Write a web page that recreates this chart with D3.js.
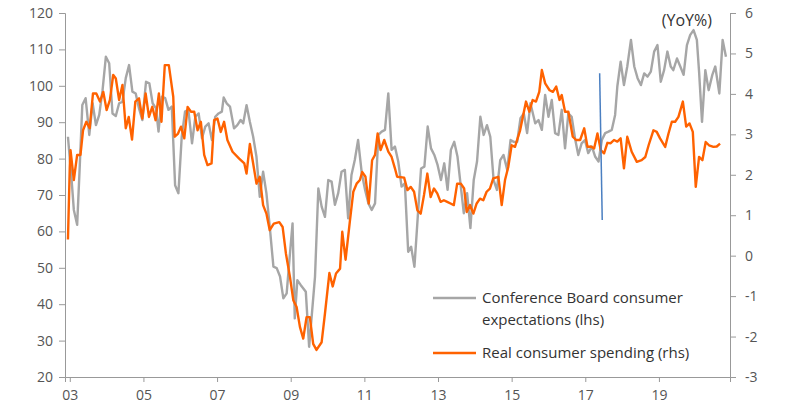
<!DOCTYPE html>
<html><head><meta charset="utf-8">
<script src="https://cdn.jsdelivr.net/npm/d3@7"></script>
<style>body{margin:0;background:#fff;font-family:"Open Sans",Arial,sans-serif}</style>
</head><body><svg id="c" width="800" height="412"></svg>
<script>
const leftTicks=[20,30,40,50,60,70,80,90,100,110,120];
const rightTicks=[-3,-2,-1,0,1,2,3,4,5,6];
const yearTicks=[2003,2005,2007,2009,2011,2013,2015,2017,2019];
const yearLabels=["03","05","07","09","11","13","15","17","19"];
const grayYears=[2002.95,2003.05,2003.11,2003.2,2003.27,2003.34,2003.43,2003.53,2003.62,2003.71,2003.8,2003.89,2003.98,2004.07,2004.16,2004.25,2004.34,2004.43,2004.52,2004.61,2004.7,2004.79,2004.88,2004.97,2005.07,2005.16,2005.25,2005.34,2005.41,2005.5,2005.59,2005.68,2005.77,2005.86,2005.95,2006.04,2006.13,2006.22,2006.32,2006.41,2006.5,2006.59,2006.68,2006.77,2006.86,2006.95,2007.04,2007.13,2007.18,2007.26,2007.35,2007.46,2007.55,2007.64,2007.71,2007.8,2007.89,2007.98,2008.07,2008.16,2008.25,2008.34,2008.43,2008.53,2008.62,2008.71,2008.8,2008.89,2008.98,2009.05,2009.11,2009.18,2009.27,2009.41,2009.5,
2009.66,2009.75,2009.84,2009.93,2010.02,2010.11,2010.2,2010.29,2010.38,2010.47,2010.56,2010.65,2010.74,2010.83,2010.93,2011.02,2011.11,2011.2,2011.29,2011.38,2011.47,2011.56,2011.65,2011.74,2011.83,2011.92,2012.01,2012.1,2012.19,2012.27,2012.36,2012.45,2012.54,2012.63,2012.72,2012.81,2012.9,2012.99,2013.08,2013.17,2013.26,2013.35,2013.44,2013.53,2013.63,2013.7,2013.79,2013.88,2013.97,2014.06,2014.15,2014.24,2014.33,2014.42,2014.51,2014.6,2014.69,2014.78,2014.88,2014.97,2015.06,2015.15,2015.24,2015.33,2015.42,2015.51,
2015.64,2015.73,2015.82,2015.91,2016.0,2016.09,2016.18,2016.27,2016.36,2016.45,2016.54,2016.63,2016.72,2016.81,2016.9,2016.99,2017.08,2017.18,2017.27,2017.36,2017.45,2017.54,2017.63,2017.72,2017.81,2017.87,2017.96,2018.05,2018.14,2018.24,2018.33,2018.42,2018.51,2018.6,2018.69,2018.78,2018.87,2018.96,2019.05,2019.14,2019.23,2019.32,2019.39,2019.49,2019.58,2019.67,2019.76,2019.85,2019.94,2020.03,2020.09,2020.17,2020.26,2020.35,2020.45,2020.53,2020.64,2020.73,2020.82];
const grayValues=[86,74.1,65.9,61.8,77.8,94.7,96.6,86.5,95.2,89.2,92,98.8,108,106.2,92.4,91.7,95.2,95.6,102.1,105.7,98.4,97.9,93.8,90.6,101.1,100.7,95.2,93.8,87.4,97,96.6,93.4,94.3,72.7,70.5,86,92.9,93.4,84.2,91.5,92.4,85.6,88.8,89.7,85.1,91.5,92.4,92.9,96.8,95.2,94.3,88.3,89.2,90.6,89.7,94.7,90.1,86,80.5,69.5,76.4,70.5,61.3,50.3,49.9,47.6,41.6,43,54,62.2,36.1,46.6,45.3,43.4,28.3,
47.6,71.8,66.8,64,74.1,73.7,67.3,70.5,76.4,76.9,63.6,75.5,79.6,85.1,76,71.4,67.7,65.9,67.7,86.5,87.4,87.9,97.9,82.4,83.3,79.2,72.3,73.2,54.4,55.8,50.3,64,77.3,77.8,88.8,82.8,81,78.2,74.1,78.7,71.4,82.4,84.6,80.5,71.4,65,70.5,60.9,74.1,79.2,91.5,86.5,89.2,86,74.1,71.4,79.6,81,76.9,85.1,84.6,84.6,91.1,92.4,87,95.2,89.7,
90.6,87.9,97.5,91.5,96.1,87,86.5,93.4,82.8,92.4,91.5,85.6,81,84.2,85.1,81.5,83.3,80.5,79.2,85.1,87,87.4,87.9,92,99.8,106.6,100.2,105.3,112.6,105.3,102.1,100.2,103.4,102.5,103.9,109.4,111.2,101.1,104.3,109.4,105.3,104.3,107.5,105.3,103,111.2,114,115.3,112.6,103.9,90.1,104.3,98.8,103,105.3,97.9,112.6,108,96.1];
const orangeYears=[2002.95,2003.0,2003.02,2003.11,2003.2,2003.29,2003.36,2003.45,2003.54,2003.63,2003.72,2003.82,2003.91,2004.0,2004.09,2004.18,2004.25,2004.34,2004.43,2004.52,2004.6,2004.69,2004.78,2004.88,2004.97,2005.06,2005.15,2005.24,2005.33,2005.42,2005.49,2005.58,2005.69,2005.81,2005.85,2005.94,2006.02,2006.11,2006.2,2006.29,2006.38,2006.47,2006.56,2006.65,2006.74,2006.85,2006.92,2007.01,2007.1,2007.19,2007.28,2007.42,2007.6,2007.74,2007.8,2007.89,2007.98,2008.07,2008.16,2008.25,2008.34,2008.43,2008.54,2008.69,2008.78,2008.87,2008.98,2009.07,2009.16,2009.25,2009.34,2009.43,2009.52,
2009.61,2009.7,2009.84,2009.93,2010.05,2010.14,2010.23,2010.34,2010.4,2010.49,2010.61,2010.7,2010.79,2010.88,2010.94,2011.03,2011.12,2011.21,2011.29,2011.36,2011.44,2011.54,2011.65,2011.74,2011.83,2011.89,2012.08,2012.17,2012.26,2012.35,2012.44,2012.53,2012.62,2012.71,2012.8,2012.89,2012.98,2013.07,2013.16,2013.25,2013.34,2013.43,2013.52,2013.62,2013.71,2013.78,2013.87,2013.96,2014.05,2014.14,2014.23,2014.32,2014.41,2014.5,2014.64,2014.73,2014.82,2014.91,2015.0,2015.09,2015.23,
2015.39,2015.48,2015.57,2015.66,2015.75,2015.82,2015.91,2016.03,2016.12,2016.21,2016.3,2016.36,2016.45,2016.54,2016.66,2016.75,2016.86,2016.97,2017.06,2017.15,2017.24,2017.33,2017.42,2017.51,2017.6,2017.69,2017.78,2017.87,2017.96,2018.05,2018.14,2018.26,2018.4,2018.53,2018.63,2018.72,2018.85,2018.94,2019.03,2019.17,2019.26,2019.35,2019.44,2019.53,2019.65,2019.74,2019.83,2019.92,2020.0,2020.09,2020.18,2020.27,2020.36,2020.48,2020.57,2020.66];
const orangeValues=[0.4,2.2,2.61,1.87,2.49,2.49,3.1,3.31,3.15,4.01,4.01,3.81,4.05,3.6,3.85,4.47,4.38,3.85,4.22,3.15,3.43,2.87,3.81,3.89,3.39,4.01,3.43,3.68,3.35,4.01,3.31,4.71,4.71,3.93,2.94,3.02,3.19,2.9,3.68,3.56,3.56,3.1,3.31,2.49,2.24,2.28,3.35,3.39,3.06,3.31,2.86,2.57,2.4,2.28,2.03,2.76,2.28,1.78,1.95,1.25,1.04,0.63,0.79,0.83,0.71,0.05,-0.53,-1.1,-1.27,-1.76,-2.05,-1.52,-1.52,
-2.18,-2.33,-2.14,-1.43,-0.43,-0.76,-0.44,-0.32,0.59,-0.1,0.88,1.58,1.78,1.87,2.07,1.95,1.29,2.36,2.49,3.02,2.61,2.86,2.57,2.44,2.16,1.95,1.93,1.62,1.7,1.58,1.12,1.04,1.5,2.03,1.45,1.66,1.54,1.33,1.37,1.33,1.29,1.25,1.78,1.78,1.66,1.08,1.25,1.04,1.29,1.41,1.37,1.58,1.66,1.91,1.95,1.25,1.87,2.2,2.73,2.69,3.1,
3.81,3.56,3.85,3.81,4.05,4.59,4.26,4.09,4.05,4.18,3.85,3.97,3.56,3.56,2.94,2.86,2.86,3.15,2.69,2.7,2.65,3.02,2.61,2.53,2.79,2.78,2.86,2.82,2.9,2.16,2.94,2.57,2.32,2.36,2.44,2.73,3.1,3.06,2.9,2.69,3.02,3.31,3.31,3.43,3.81,3.19,3.27,3.06,1.7,2.44,2.36,2.81,2.73,2.69,2.7,2.77];
const markerYears=[2017.39,2017.46];
const markerValues=[4.51,0.88];

const svg=d3.select("#c");
const x=d3.scaleLinear().domain([2002.87,2020.93]).range([65,730]);
const yL=d3.scaleLinear().domain([20,120]).range([377,13]);
const yR=d3.scaleLinear().domain([-3,6]).range([377,13]);
const axisColor="#999",txt="#555";

const ga=svg.append("g").attr("transform","translate(65,0)").call(d3.axisLeft(yL).tickValues(leftTicks).tickSize(6).tickPadding(6));
const gr=svg.append("g").attr("transform","translate(730,0)").call(d3.axisRight(yR).tickValues(rightTicks).tickFormat(d=>String(d)).tickSize(6).tickPadding(9));
const gb=svg.append("g").attr("transform","translate(0,377)").call(d3.axisBottom(x).tickValues(yearTicks).tickFormat((d,i)=>yearLabels[i]).tickSize(5).tickPadding(8));
[ga,gr,gb].forEach(g=>{g.selectAll("path,line").attr("stroke",axisColor);g.selectAll("text").attr("fill",txt).style("font-size","14px").style("font-family","'Open Sans',Arial,sans-serif");});

const line=(ys,vs,sc)=>d3.line().x((d,i)=>x(ys[i])).y((d,i)=>sc(vs[i]))(vs);
svg.append("path").attr("d",line(grayYears,grayValues,yL)).attr("fill","none").attr("stroke","#a6a6a6").attr("stroke-width",2.4).attr("stroke-linejoin","round");
svg.append("path").attr("d",line(orangeYears,orangeValues,yR)).attr("fill","none").attr("stroke","#ff6200").attr("stroke-width",2.4).attr("stroke-linejoin","round");
svg.append("path").attr("d",line(markerYears,markerValues,yR)).attr("fill","none").attr("stroke","#4a7fc1").attr("stroke-width",1.5);

svg.append("text").attr("x",712).attr("y",26).attr("text-anchor","end").attr("fill","#333").style("font-size","16px").text("(YoY%)");
const lg=svg.append("g").style("font-size","15px").attr("fill","#333");
lg.append("line").attr("x1",433).attr("x2",476).attr("y1",298).attr("y2",298).attr("stroke","#a6a6a6").attr("stroke-width",2.4);
lg.append("text").attr("x",482).attr("y",303).text("Conference Board consumer");
lg.append("text").attr("x",482).attr("y",325).text("expectations (lhs)");
lg.append("line").attr("x1",433).attr("x2",476).attr("y1",353).attr("y2",353).attr("stroke","#ff6200").attr("stroke-width",2.4);
lg.append("text").attr("x",482).attr("y",358).text("Real consumer spending (rhs)");
</script></body></html>
